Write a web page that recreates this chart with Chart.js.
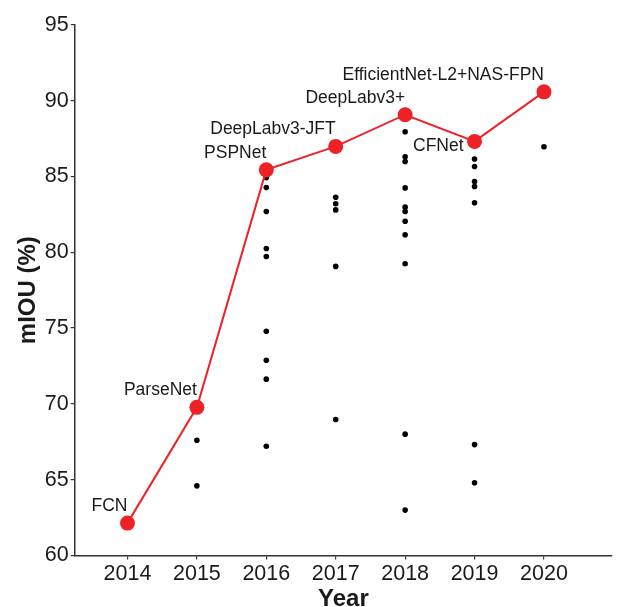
<!DOCTYPE html>
<html>
<head>
<meta charset="utf-8">
<script src="https://cdn.jsdelivr.net/npm/chart.js@4"></script>
<style>
  html, body { margin: 0; padding: 0; background: #fff; }
  #wrap { width: 625px; height: 607px; }
</style>
</head>
<body>
<div id="wrap"><canvas id="miou-chart" width="625" height="607"></canvas></div>
<script>
// state-of-the-art line
const years = [2014, 2015, 2016, 2017, 2018, 2019, 2020];
const sotaValues = [62.13, 69.77, 85.44, 86.99, 89.08, 87.32, 90.59];
const sotaNames = ['FCN', 'ParseNet', 'PSPNet', 'DeepLabv3-JFT', 'DeepLabv3+', 'CFNet', 'EfficientNet-L2+NAS-FPN'];

// other methods (black dots)
const otherYears = [
    2015, 2015,
    2016, 2016, 2016, 2016, 2016, 2016, 2016, 2016, 2016,
    2017, 2017, 2017, 2017, 2017,
    2018, 2018, 2018, 2018, 2018, 2018, 2018, 2018, 2018, 2018, 2018,
    2019, 2019, 2019, 2019, 2019, 2019, 2019,
    2020
];
const otherValues = [
    67.6, 64.59,
    84.93, 84.27, 82.69, 80.25, 79.72, 74.79, 72.88, 71.63, 67.2,
    83.63, 83.2, 82.8, 79.07, 68.97,
    87.96, 86.31, 85.99, 84.25, 82.98, 82.69, 82.05, 81.16, 79.25, 68.0, 62.99,
    86.16, 85.66, 84.67, 84.34, 83.27, 67.31, 64.79,
    86.97
];

const yTicks = [60, 65, 70, 75, 80, 85, 90, 95];

const FONT = "'Liberation Sans', Arial, Helvetica, sans-serif";
const RED = '#ec2227';
const AXIS = '#333333';

// method name next to each red point, right-aligned at the point
const sotaLabels = {
    id: 'sotaLabels',
    afterDatasetsDraw(chart) {
        const ctx = chart.ctx;
        const meta = chart.getDatasetMeta(0);
        ctx.save();
        ctx.font = '17.5px ' + FONT;
        ctx.fillStyle = '#1a1a1a';
        ctx.textAlign = 'right';
        ctx.textBaseline = 'middle';
        meta.data.forEach((pt, i) => {
            let dx = 0, dy = -17;
            if (sotaNames[i] === 'CFNet') { dx = -11; dy = 5; }
            ctx.fillText(sotaNames[i], pt.x + dx, pt.y + dy);
        });
        ctx.restore();
    }
};

function renderChart() {
    const ctx = document.getElementById('miou-chart').getContext('2d');
    new Chart(ctx, {
        type: 'scatter',
        data: {
            datasets: [
                {
                    label: 'SOTA',
                    type: 'line',
                    data: years.map((y, i) => ({ x: y, y: sotaValues[i] })),
                    borderColor: RED,
                    backgroundColor: RED,
                    borderWidth: 2,
                    pointRadius: 7.5,
                    pointBorderWidth: 0,
                    pointHoverRadius: 7.5,
                    tension: 0
                },
                {
                    label: 'Others',
                    data: otherYears.map((y, i) => ({ x: y, y: otherValues[i] })),
                    backgroundColor: '#000',
                    borderColor: '#000',
                    pointRadius: 2.8,
                    pointBorderWidth: 0
                }
            ]
        },
        options: {
            responsive: false,
            animation: false,
            layout: { padding: { top: 25, right: 13, left: 14, bottom: 0 } },
            plugins: {
                legend: { display: false },
                tooltip: { enabled: false }
            },
            scales: {
                x: {
                    type: 'linear',
                    min: 2013.24,
                    max: 2020.98,
                    afterBuildTicks: axis => { axis.ticks = years.map(v => ({ value: v })); },
                    ticks: {
                        color: '#1a1a1a',
                        font: { family: FONT, size: 21.5 },
                        padding: 2,
                        callback: v => String(v)
                    },
                    grid: { drawOnChartArea: false, drawTicks: true, tickLength: 4, color: AXIS, lineWidth: 1.2 },
                    border: { color: AXIS, width: 1.5 },
                    title: {
                        display: true,
                        text: 'Year',
                        color: '#1a1a1a',
                        font: { family: FONT, size: 24, weight: 'bold' },
                        padding: { top: -4, bottom: -7 }
                    }
                },
                y: {
                    min: 60,
                    max: 95,
                    afterBuildTicks: axis => { axis.ticks = yTicks.map(v => ({ value: v })); },
                    ticks: {
                        color: '#1a1a1a',
                        font: { family: FONT, size: 21.5 },
                        padding: 2
                    },
                    grid: { drawOnChartArea: false, drawTicks: true, tickLength: 4, color: AXIS, lineWidth: 1.2 },
                    border: { color: AXIS, width: 1.5 },
                    title: {
                        display: true,
                        text: 'mIOU (%)',
                        color: '#1a1a1a',
                        font: { family: FONT, size: 24, weight: 'bold' },
                        padding: { top: 0, bottom: 0 }
                    }
                }
            }
        },
        plugins: [sotaLabels]
    });
}

renderChart();
</script>
</body>
</html>
